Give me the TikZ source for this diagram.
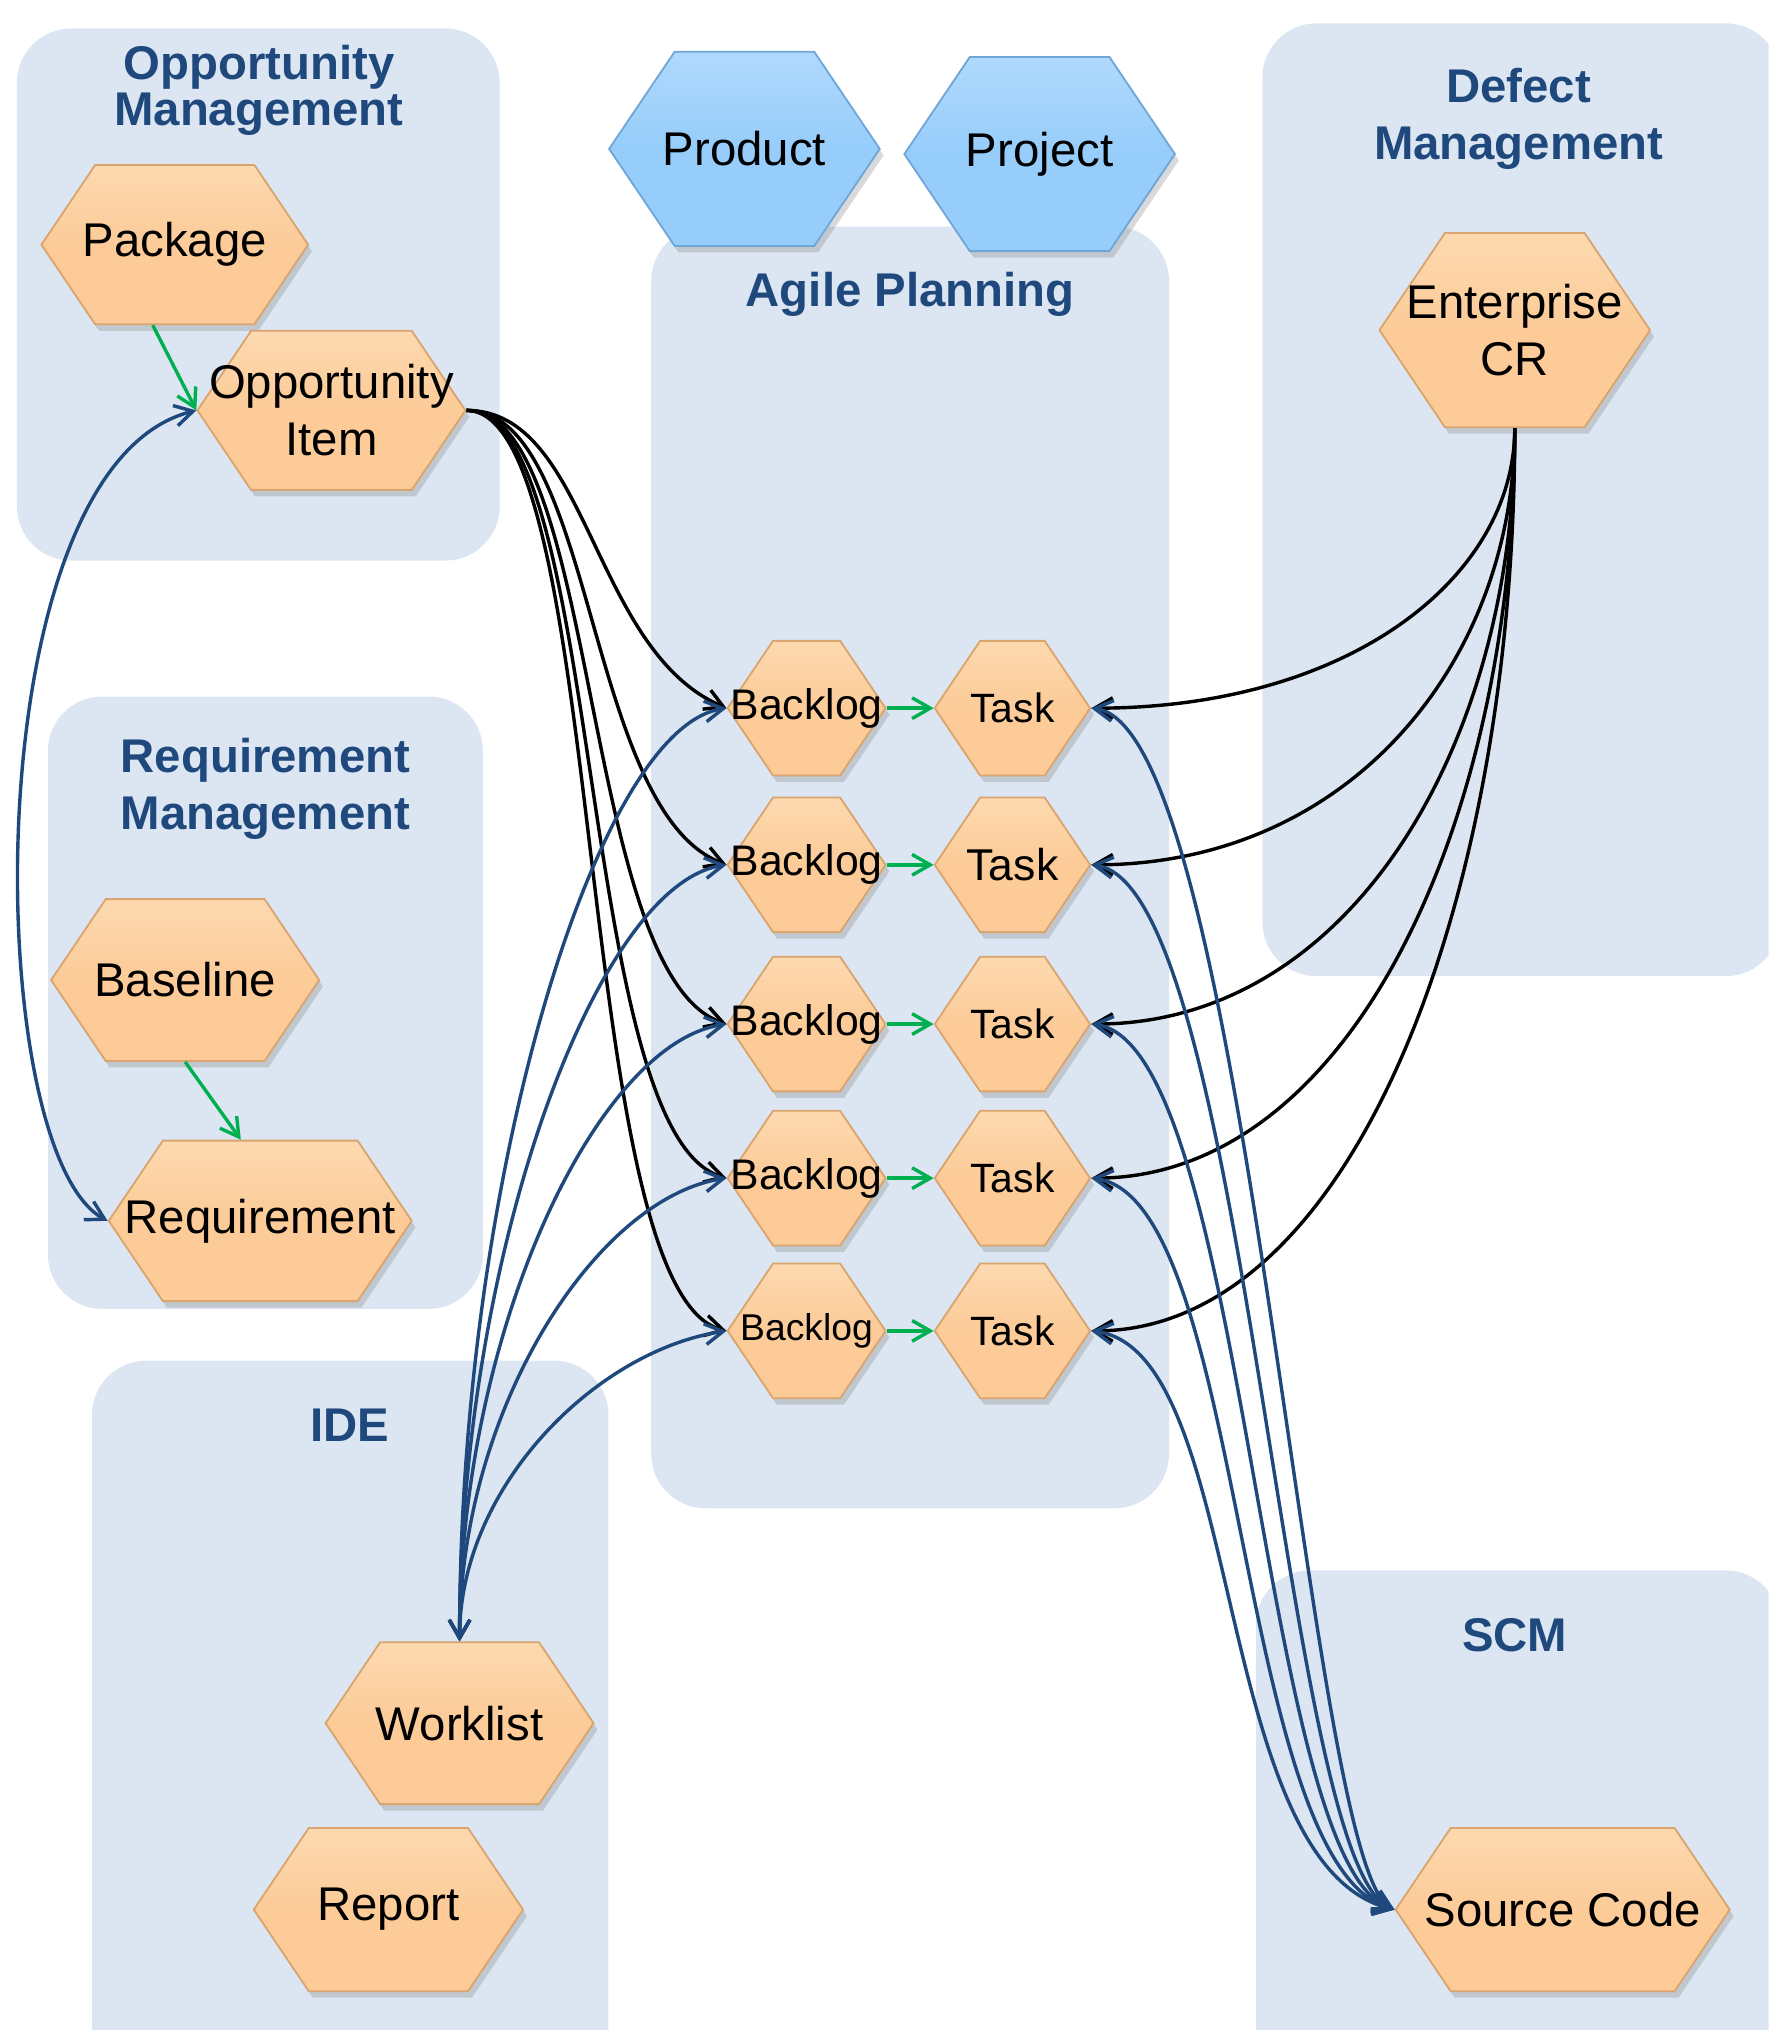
\documentclass[tikz,border=0pt]{standalone}
\usepackage{fontspec}
\setmainfont{Liberation Sans}
\usetikzlibrary{shapes.symbols,shadows,arrows.meta}
\definecolor{panel}{HTML}{DCE6F2}
\definecolor{headblue}{HTML}{1F497D}
\definecolor{hexorange}{HTML}{FCCB98}
\definecolor{hexlight}{HTML}{FDD9B0}
\definecolor{hexedge}{HTML}{D9A46E}
\definecolor{hexblue}{HTML}{96CDFB}
\definecolor{hexbluelight}{HTML}{B0D9FC}
\definecolor{hexblueedge}{HTML}{6FA6D8}
\definecolor{linkgreen}{HTML}{00B050}
\tikzset{
  box/.style={fill=panel, rounded corners=0.42cm},
  title/.style={font=\fontsize{10.4}{12.5}\selectfont\bfseries, text=headblue, align=center},
  cell/.style 2 args={signal, signal to=east and west, signal pointer angle=112,
    minimum width=#1cm, minimum height=#2cm, inner sep=0pt, align=center,
    draw=hexedge, line width=0.4pt, top color=hexlight, bottom color=hexorange, middle color=hexorange,
    drop shadow={opacity=0.3, shadow xshift=0.03cm, shadow yshift=-0.05cm},
    font=\fontsize{10.4}{12.5}\selectfont},
  bluecell/.style 2 args={cell={#1}{#2}, draw=hexblueedge, top color=hexbluelight, bottom color=hexblue, middle color=hexblue},
  grn/.style={->, linkgreen, line width=0.75pt},
  blk/.style={->, black, line width=0.75pt},
  blu/.style={<->, headblue, line width=0.75pt}
}
\begin{document}
\begin{tikzpicture}[>={Straight Barb[length=1.4mm,width=1.6mm]}]
\useasboundingbox (0,0) rectangle (13.66,-15.68);
\clip (0,0) rectangle (13.66,-15.68);
% panels
\fill[box] (0.13,-0.22) rectangle (3.86,-4.33);
\fill[box] (0.37,-5.38) rectangle (3.73,-10.11);
\fill[box] (0.71,-10.51) rectangle (4.70,-16.2);
\fill[box] (5.03,-1.75) rectangle (9.03,-11.65);
\fill[box] (9.75,-0.18) rectangle (13.75,-7.54);
\fill[box] (9.70,-12.13) rectangle (13.75,-16.2);
\node[title, font=\fontsize{10.4}{10.2}\selectfont\bfseries] (omtitle) at (2.00,-0.70) {Opportunity\\Management};
\node[title] (rmtitle) at (2.05,-6.09) {Requirement\\Management};
\node[title] (idetitle) at (2.70,-11.01) {IDE};
\node[title] (aptitle) at (7.03,-2.27) {Agile Planning};
\node[title] (dmtitle) at (11.73,-0.92) {Defect\\Management};
\node[title] (scmtitle) at (11.70,-12.63) {SCM};
% hexagons
\node[cell={2.06}{1.23}] (pkg) at (1.35,-1.89) {\makebox[0pt]{Package}};
\node[cell={2.07}{1.23}] (opp) at (2.56,-3.17) {\makebox[0pt]{Opportunity}\\\makebox[0pt]{Item}};
\node[cell={2.07}{1.25}] (base) at (1.43,-7.57) {\makebox[0pt]{Baseline}};
\node[cell={2.34}{1.24}] (req) at (2.01,-9.43) {\makebox[0pt]{Requirement}};
\node[cell={2.07}{1.25}] (work) at (3.55,-13.31) {\makebox[0pt]{Worklist}};
\node[cell={2.08}{1.26}] (rep) at (3.00,-14.75) {\makebox[0pt]{Report}};
\node[bluecell={2.09}{1.50}] (prod) at (5.75,-1.15) {\makebox[0pt]{Product}};
\node[bluecell={2.09}{1.50}] (proj) at (8.03,-1.19) {\makebox[0pt]{Project}};
\node[cell={2.09}{1.50}] (cr) at (11.70,-2.55) {\makebox[0pt]{Enterprise}\\\makebox[0pt]{CR}};
\node[cell={2.58}{1.26}] (sc) at (12.07,-14.75) {\makebox[0pt]{Source Code}};
\node[cell={1.22}{1.04}, font=\fontsize{9.4}{11}\selectfont] (b1) at (6.23,-5.47) {\makebox[0pt]{Backlog}};
\node[cell={1.22}{1.04}, font=\fontsize{9.4}{11}\selectfont] (b2) at (6.23,-6.68) {\makebox[0pt]{Backlog}};
\node[cell={1.22}{1.04}, font=\fontsize{9.4}{11}\selectfont] (b3) at (6.23,-7.91) {\makebox[0pt]{Backlog}};
\node[cell={1.22}{1.04}, font=\fontsize{9.4}{11}\selectfont] (b4) at (6.23,-9.10) {\makebox[0pt]{Backlog}};
\node[cell={1.22}{1.04}, font=\fontsize{8.2}{10}\selectfont] (b5) at (6.23,-10.28) {\makebox[0pt]{Backlog}};
\node[cell={1.20}{1.04}, font=\fontsize{9}{10}\selectfont] (t1) at (7.82,-5.47) {\makebox[0pt]{Task}};
\node[cell={1.20}{1.04}, font=\fontsize{9.8}{11}\selectfont] (t2) at (7.82,-6.68) {\makebox[0pt]{Task}};
\node[cell={1.20}{1.04}, font=\fontsize{9}{10}\selectfont] (t3) at (7.82,-7.91) {\makebox[0pt]{Task}};
\node[cell={1.20}{1.04}, font=\fontsize{9}{10}\selectfont] (t4) at (7.82,-9.10) {\makebox[0pt]{Task}};
\node[cell={1.20}{1.04}, font=\fontsize{9}{10}\selectfont] (t5) at (7.82,-10.28) {\makebox[0pt]{Task}};
% green links
\draw[grn] ([xshift=-0.17cm]pkg.south) -- (opp.west);
\draw[grn] (base.south) -- ([xshift=-0.15cm]req.north);
\draw[grn] (b1.east) -- (t1.west);
\draw[grn] (b2.east) -- (t2.west);
\draw[grn] (b3.east) -- (t3.west);
\draw[grn] (b4.east) -- (t4.west);
\draw[grn] (b5.east) -- (t5.west);
% opportunity item to backlogs
\draw[blk] (opp.east) .. controls +(0.95,0) and +(-1.05,0.45) .. (b1.west);
\draw[blk] (opp.east) .. controls +(1.0,0) and +(-1.1,0.42) .. (b2.west);
\draw[blk] (opp.east) .. controls +(1.03,0) and +(-1.13,0.38) .. (b3.west);
\draw[blk] (opp.east) .. controls +(1.07,0) and +(-1.17,0.34) .. (b4.west);
\draw[blk] (opp.east) .. controls +(1.1,0) and +(-1.2,0.3) .. (b5.west);
% enterprise CR to tasks
\draw[blk] (cr.south) .. controls +(0,-1.15) and +(2.0,0) .. (t1.east);
\draw[blk] (cr.south) .. controls +(0,-1.8) and +(2.0,0) .. (t2.east);
\draw[blk] (cr.south) .. controls +(0,-2.45) and +(2.0,0) .. (t3.east);
\draw[blk] (cr.south) .. controls +(0,-3.05) and +(2.0,0) .. (t4.east);
\draw[blk] (cr.south) .. controls +(0,-3.7) and +(2.0,0) .. (t5.east);
% requirement to opportunity item
\draw[blu] (req.west) .. controls +(-0.98,0.53) and +(-1.73,-0.43) .. (opp.west);
% worklist to backlogs
\draw[blu] (work.north) .. controls +(0,3.6) and +(-1.0,-0.15) .. (b1.west);
\draw[blu] (work.north) .. controls +(0,3.0) and +(-1.0,-0.15) .. (b2.west);
\draw[blu] (work.north) .. controls +(0,2.4) and +(-1.0,-0.15) .. (b3.west);
\draw[blu] (work.north) .. controls +(0,1.8) and +(-1.0,-0.15) .. (b4.west);
\draw[blu] (work.north) .. controls +(0,1.2) and +(-1.0,-0.15) .. (b5.west);
% tasks to source code
\draw[blu] (t1.east) .. controls +(1.2,-0.15) and +(-0.68,0.35) .. (sc.west);
\draw[blu] (t2.east) .. controls +(1.2,-0.15) and +(-0.87,0.35) .. (sc.west);
\draw[blu] (t3.east) .. controls +(1.2,-0.15) and +(-1.05,0.35) .. (sc.west);
\draw[blu] (t4.east) .. controls +(1.2,-0.15) and +(-1.24,0.35) .. (sc.west);
\draw[blu] (t5.east) .. controls +(1.2,-0.15) and +(-1.43,0.35) .. (sc.west);
\end{tikzpicture}
\end{document}
